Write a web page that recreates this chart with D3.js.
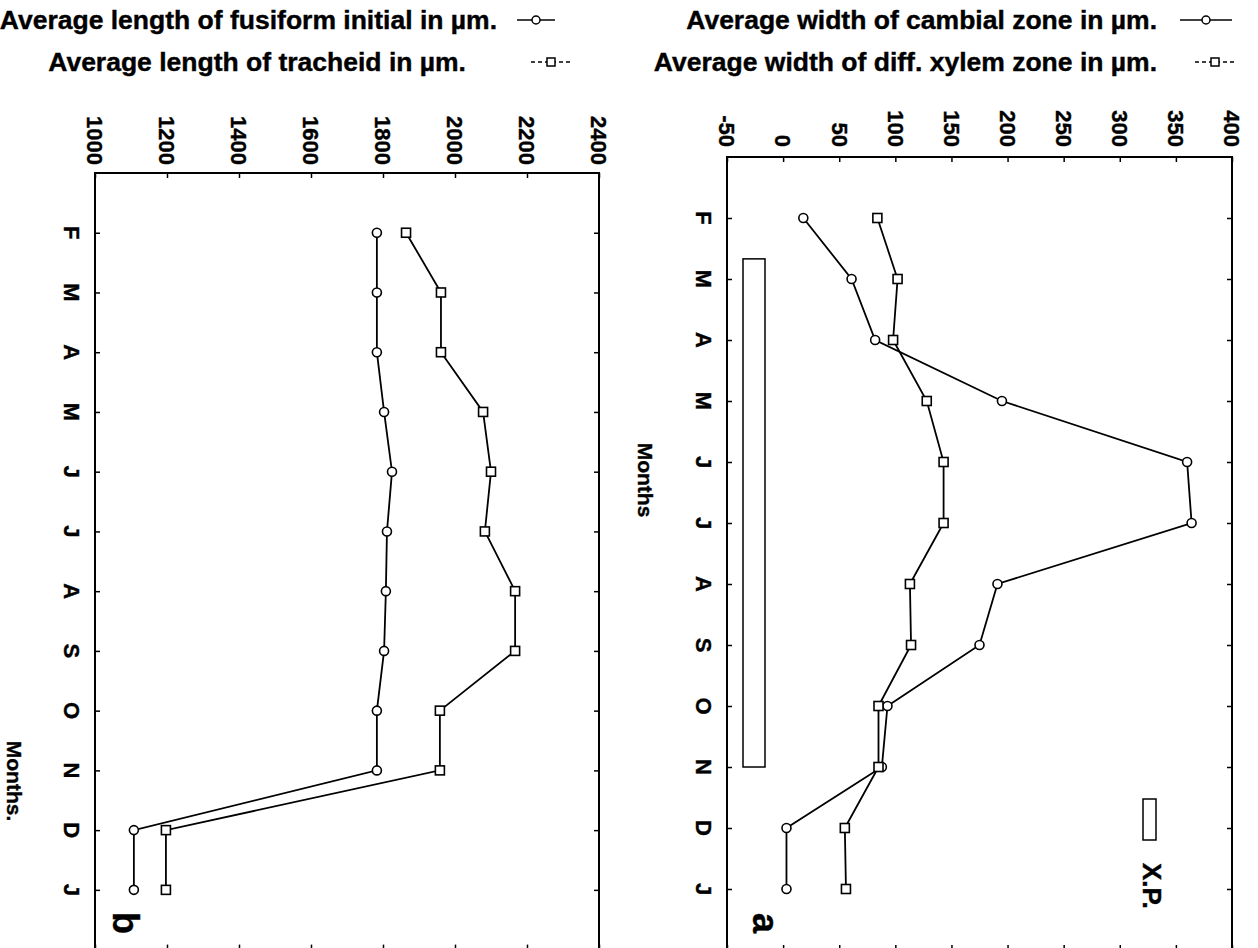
<!DOCTYPE html>
<html>
<head>
<meta charset="utf-8">
<script src="https://cdn.jsdelivr.net/npm/d3@7"></script>
<style>
  body { margin: 0; background: #fff; }
  svg { display: block; }
  text { font-family: "Liberation Sans", Arial, Helvetica, sans-serif; font-weight: bold; fill: #000; stroke: #000; stroke-width: 0.4px; }
</style>
</head>
<body>
<svg id="chart" width="1258" height="948"></svg>
<script>
// Months of the sampling year (February to January)
const months = ["F", "M", "A", "M", "J", "J", "A", "S", "O", "N", "D", "J"];

// Panel a: zone widths (µm)
const cambialWidth = [18, 61, 82, 195, 360, 364, 191, 175, 93, 88, 3, 3];
const xylemWidth   = [84, 102, 98, 128, 143, 143, 113, 114, 85, 85, 55, 56];
const widthTicks   = [-50, 0, 50, 100, 150, 200, 250, 300, 350, 400];

// Panel b: cell lengths (µm)
const fusiformLength = [1783, 1783, 1783, 1803, 1825, 1811, 1808, 1803, 1783, 1783, 1108, 1108];
const tracheidLength = [1864, 1961, 1961, 2078, 2100, 2083, 2167, 2167, 1958, 1958, 1197, 1197];
const lengthTicks    = [1000, 1200, 1400, 1600, 1800, 2000, 2200, 2400];

// Xylem production period, in month positions (late Feb/early Mar to Nov)
const xpPeriod = [0.67, 9];

const svg = d3.select("#chart");

function vText(parent, x, y, str, size, anchor, dy) {
  return parent.append("text")
    .attr("transform", `translate(${x},${y}) rotate(90)`)
    .attr("text-anchor", anchor)
    .attr("dy", dy === undefined ? "0.35em" : dy)
    .style("font-size", size + "px")
    .text(str);
}

function drawPanel(cfg) {
  const g = svg.append("g");
  const x = d3.scaleLinear().domain(cfg.domain).range([cfg.left, cfg.right]);
  const y = d3.scaleLinear().domain([-1, 12]).range([cfg.top, cfg.bottom]);
  const idx = d3.range(months.length);

  // frame
  g.append("rect")
    .attr("x", cfg.left).attr("y", cfg.top)
    .attr("width", cfg.right - cfg.left).attr("height", cfg.bottom - cfg.top)
    .attr("fill", "none").attr("stroke", "#000").attr("stroke-width", 2);

  // inward ticks on all four sides
  const tickSide = (axis, tx, ty) => {
    const a = g.append("g").attr("transform", `translate(${tx},${ty})`).call(axis);
    a.select(".domain").remove();
    a.selectAll("line").attr("stroke-width", 1.5);
    a.selectAll("text").remove();
  };
  tickSide(d3.axisTop(x).tickValues(cfg.ticks).tickSize(-5), 0, cfg.top);
  tickSide(d3.axisBottom(x).tickValues(cfg.ticks).tickSize(-5), 0, cfg.bottom);
  tickSide(d3.axisLeft(y).tickValues(idx).tickSize(-5), cfg.left, 0);
  tickSide(d3.axisRight(y).tickValues(idx).tickSize(-5), cfg.right, 0);

  // value tick labels, rotated, above the frame
  cfg.ticks.forEach(t => vText(g, x(t), cfg.labelEnd, String(t), 22, "end"));

  // month labels, rotated, left of the frame
  months.forEach((m, i) => vText(g, cfg.monthX, y(i), m, 22, "middle"));
  vText(g, cfg.titleX, cfg.titleY, cfg.title, 21, "middle");

  // optional xylem-production bar
  if (cfg.xp) {
    g.append("rect")
      .attr("x", cfg.left + 16).attr("width", 22)
      .attr("y", y(xpPeriod[0])).attr("height", y(xpPeriod[1]) - y(xpPeriod[0]))
      .attr("fill", "#fff").attr("stroke", "#000").attr("stroke-width", 1.5);
  }

  const line = d3.line().x(d => x(d)).y((d, i) => y(i));

  cfg.series.forEach(s => {
    g.append("path").datum(s.values)
      .attr("d", line).attr("fill", "none")
      .attr("stroke", "#000").attr("stroke-width", 1.8);
  });
  cfg.series.forEach(s => {
    const mk = g.append("g");
    if (s.shape === "circle") {
      mk.selectAll("circle").data(s.values).join("circle")
        .attr("cx", d => x(d)).attr("cy", (d, i) => y(i)).attr("r", 4.5)
        .attr("fill", "#fff").attr("stroke", "#000").attr("stroke-width", 1.6);
    } else {
      mk.selectAll("rect").data(s.values).join("rect")
        .attr("x", d => x(d) - 4.5).attr("y", (d, i) => y(i) - 4.5)
        .attr("width", 9).attr("height", 9)
        .attr("fill", "#fff").attr("stroke", "#000").attr("stroke-width", 1.6);
    }
  });

  // panel letter
  vText(g, cfg.letterX, cfg.letterY, cfg.letter, 36, "middle", "0");
  return { x, y };
}

drawPanel({
  left: 95, right: 599, top: 173, bottom: 949.6,
  domain: [1000, 2400], ticks: lengthTicks, labelEnd: 165,
  monthX: 72, titleX: 14, titleY: 781, title: "Months.",
  letter: "b", letterX: 113, letterY: 923,
  series: [
    { values: fusiformLength, shape: "circle" },
    { values: tracheidLength, shape: "square" }
  ]
});

drawPanel({
  left: 727, right: 1232, top: 157, bottom: 950,
  domain: [-50, 400], ticks: widthTicks, labelEnd: 147,
  monthX: 704, titleX: 645, titleY: 480, title: "Months",
  letter: "a", letterX: 753, letterY: 923, xp: true,
  series: [
    { values: cambialWidth, shape: "circle" },
    { values: xylemWidth, shape: "square" }
  ]
});

// X.P. key
svg.append("rect").attr("x", 1143).attr("y", 799).attr("width", 13).attr("height", 41)
  .attr("fill", "#fff").attr("stroke", "#000").attr("stroke-width", 1.5);
vText(svg, 1152, 863, "X.P.", 26, "start");

// legends
function legendItem(textX, textY, anchor, label, sx0, sx1, shape) {
  svg.append("text").attr("x", textX).attr("y", textY).attr("text-anchor", anchor)
    .attr("dy", "0.35em").style("font-size", "26.5px").text(label);
  const cy = textY;
  svg.append("line").attr("x1", sx0).attr("x2", sx1).attr("y1", cy).attr("y2", cy)
    .attr("stroke", "#000").attr("stroke-width", 1.5)
    .attr("stroke-dasharray", shape === "square" ? "4,3" : null);
  const cx = (sx0 + sx1) / 2;
  if (shape === "circle") {
    svg.append("circle").attr("cx", cx).attr("cy", cy).attr("r", 4)
      .attr("fill", "#fff").attr("stroke", "#000").attr("stroke-width", 1.5);
  } else {
    svg.append("rect").attr("x", cx - 4).attr("y", cy - 4).attr("width", 8).attr("height", 8)
      .attr("fill", "#fff").attr("stroke", "#000").attr("stroke-width", 1.5);
  }
}

legendItem(497, 20, "end", "Average length of fusiform initial in µm.", 517, 555, "circle");
legendItem(466, 62, "end", "Average length of tracheid in µm.", 531, 571, "square");
legendItem(1157, 20, "end", "Average width of cambial zone in µm.", 1180, 1232, "circle");
legendItem(1157, 62, "end", "Average width of diff. xylem zone in µm.", 1195, 1235, "square");
</script>
</body>
</html>
